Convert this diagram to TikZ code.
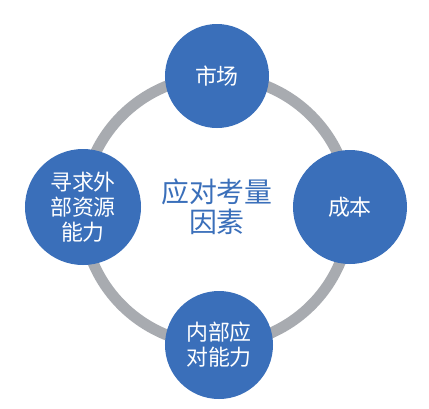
\documentclass[tikz,border=0pt]{standalone}
\usepackage{fontspec}
\newfontfamily\cjk{Noto Sans CJK SC}
\definecolor{nodeblue}{HTML}{3A6FBA}
\definecolor{ringgray}{HTML}{A8ABB0}
\begin{document}
\begin{tikzpicture}[x=1bp,y=-1bp,
  factor/.style={circle,fill=nodeblue,text=white,minimum size=#1,inner sep=0pt,
    align=center,font=\cjk\fontsize{22}{25}\selectfont},
  centertext/.style={text=nodeblue,align=center,font=\cjk\fontsize{28}{30}\selectfont}]
\useasboundingbox[fill=white] (0,0) rectangle (429,409);
\coordinate (c) at (216.5,210.5);
\draw[ringgray,line width=11bp] (c) circle[radius=134bp];
\node[factor=104bp] (market) at (217,76) {市场};
\node[factor=114bp] (cost) at (350,207) {成本};
\node[factor=108bp] (internal) at (219,345) {内部应\\对能力};
\node[factor=116bp] (external) at (83,207) {寻求外\\部资源\\能力};
\node[centertext] (center) at (217,207) {应对考量\\因素};
\end{tikzpicture}
\end{document}
